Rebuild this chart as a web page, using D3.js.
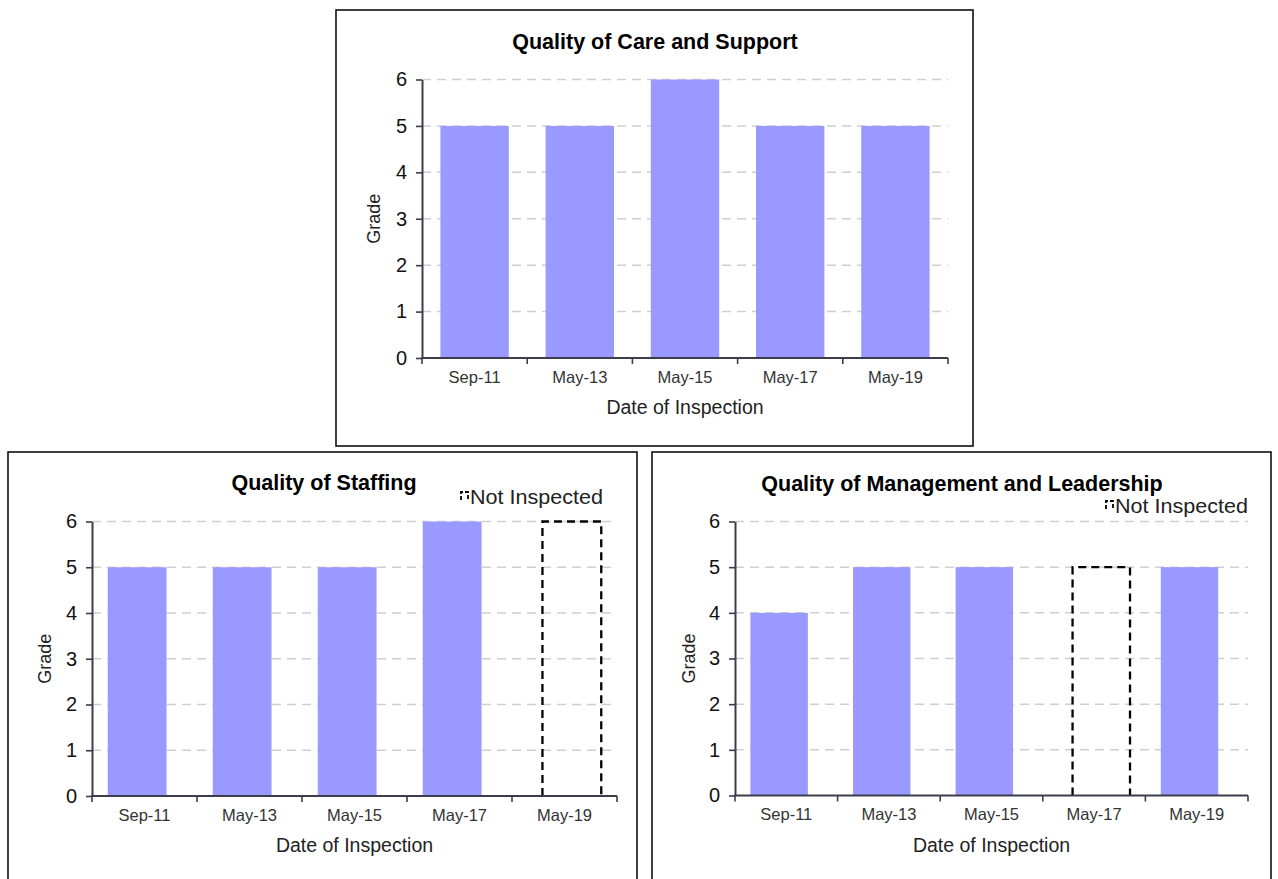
<!DOCTYPE html>
<html>
<head>
<meta charset="utf-8">
<script src="https://cdn.jsdelivr.net/npm/d3@7"></script>
<style>
  html, body { margin: 0; padding: 0; background: #fff; }
  svg { display: block; }
  text { font-family: "Liberation Sans", Arial, sans-serif; }
</style>
</head>
<body>
<svg id="chart" width="1278" height="879"></svg>
<script>
// Inspection dates shared by all three panels
const categories = ["Sep-11", "May-13", "May-15", "May-17", "May-19"];

// Grades per inspection (null = theme not inspected that time)
const careGrades       = [5, 5, 6, 5, 5];
const staffingGrades   = [5, 5, 5, 6, null];
const managementGrades = [4, 5, 5, null, 5];

// "Not Inspected" placeholders: date and the grade carried forward
const staffingNotInspected   = [{ date: "May-19", grade: 6 }];
const managementNotInspected = [{ date: "May-17", grade: 5 }];

const gradeTicks = [0, 1, 2, 3, 4, 5, 6];

const BAR_COLOR = "#9999ff";
const AXIS_COLOR = "#3c3c4c";
const GRID_COLOR = "#cfcfcf";

const svg = d3.select("#chart");

function drawPanel(cfg) {
  const g = svg.append("g");

  // panel border
  g.append("rect")
    .attr("x", cfg.frame[0]).attr("y", cfg.frame[1])
    .attr("width", cfg.frame[2]).attr("height", cfg.frame[3])
    .attr("fill", "#fff").attr("stroke", "#111").attr("stroke-width", 1.6);

  const x = d3.scaleBand()
    .domain(categories)
    .range([cfg.left, cfg.right])
    .paddingInner(cfg.pad)
    .paddingOuter(cfg.pad / 2);

  const y = d3.scaleLinear().domain([0, 6]).range([cfg.bottom, cfg.top]);

  // dashed horizontal gridlines
  g.append("g").selectAll("line")
    .data(gradeTicks.filter(t => t > 0))
    .join("line")
    .attr("x1", cfg.left).attr("x2", cfg.right)
    .attr("y1", d => y(d)).attr("y2", d => y(d))
    .attr("stroke", GRID_COLOR).attr("stroke-width", 1.5)
    .attr("stroke-dasharray", "9,6");

  const bw = x.bandwidth();
  const shift = cfg.shift * x.step();

  // filled grade bars
  const filled = categories.map((c, i) => ({ date: c, grade: cfg.grades[i] }))
    .filter(d => d.grade != null);
  g.append("g").selectAll("rect")
    .data(filled)
    .join("rect")
    .attr("x", d => x(d.date) - shift)
    .attr("y", d => y(d.grade))
    .attr("width", bw)
    .attr("height", d => y(0) - y(d.grade))
    .attr("fill", BAR_COLOR);

  // dashed outline bars for themes not inspected
  if (cfg.notInspected) {
    g.append("g").selectAll("path")
      .data(cfg.notInspected)
      .join("path")
      .attr("d", d => {
        const x0 = x(d.date) + shift, x1 = x0 + bw;
        return `M${x0},${y(0)}V${y(d.grade)}H${x1}V${y(0)}`;
      })
      .attr("fill", "none").attr("stroke", "#000").attr("stroke-width", 2.3)
      .attr("stroke-dasharray", "8,5");
  }

  // y axis
  const yAxis = g.append("g")
    .attr("transform", `translate(${cfg.left},0)`)
    .call(d3.axisLeft(y).tickValues(gradeTicks).tickFormat(d3.format("d"))
      .tickSize(6).tickPadding(9).tickSizeOuter(0));
  yAxis.select(".domain").attr("stroke", AXIS_COLOR).attr("stroke-width", 2);
  yAxis.selectAll(".tick line").attr("stroke", AXIS_COLOR).attr("stroke-width", 1.6);
  yAxis.selectAll(".tick text")
    .attr("font-size", 20).attr("fill", "#111")
    .attr("font-family", "Liberation Sans, Arial, sans-serif");

  // x axis: labels at band centres, tick marks at band boundaries
  const xAxis = g.append("g")
    .attr("transform", `translate(0,${cfg.bottom})`)
    .call(d3.axisBottom(x).tickSize(0).tickPadding(13).tickSizeOuter(0));
  xAxis.select(".domain").remove();
  xAxis.selectAll(".tick text")
    .attr("font-size", 16.5).attr("fill", "#333")
    .attr("font-family", "Liberation Sans, Arial, sans-serif");

  const bounds = categories.map(c => x(c) - x.step() * cfg.pad / 2).concat([cfg.right]);
  g.append("g").selectAll("line")
    .data(bounds)
    .join("line")
    .attr("x1", d => d).attr("x2", d => d)
    .attr("y1", cfg.bottom).attr("y2", cfg.bottom + 6)
    .attr("stroke", AXIS_COLOR).attr("stroke-width", 1.6);
  g.append("line")
    .attr("x1", cfg.left - 1).attr("x2", cfg.right)
    .attr("y1", cfg.bottom).attr("y2", cfg.bottom)
    .attr("stroke", AXIS_COLOR).attr("stroke-width", 2);

  // titles
  g.append("text")
    .attr("x", cfg.titleX).attr("y", cfg.titleY)
    .attr("text-anchor", "middle")
    .attr("font-size", 21.5).attr("font-weight", "bold").attr("fill", "#000")
    .text(cfg.title);

  g.append("text")
    .attr("x", (cfg.left + cfg.right) / 2).attr("y", cfg.bottom + 56)
    .attr("text-anchor", "middle")
    .attr("font-size", 19.5).attr("fill", "#222")
    .text("Date of Inspection");

  g.append("text")
    .attr("transform", `translate(${cfg.gradeX},${(cfg.top + cfg.bottom) / 2}) rotate(-90)`)
    .attr("text-anchor", "middle")
    .attr("font-size", 18).attr("fill", "#222")
    .text("Grade");

  // legend
  if (cfg.legend) {
    const lg = g.append("g").attr("transform", `translate(${cfg.legend[0]},${cfg.legend[1]})`);
    lg.append("path")
      .attr("d", "M0,9V1H7V9")
      .attr("fill", "none").attr("stroke", "#000").attr("stroke-width", 1.8)
      .attr("stroke-dasharray", "4,2");
    lg.append("text")
      .attr("x", 9).attr("y", 13)
      .attr("font-family", "Open Sans, sans-serif")
      .attr("font-size", 20).attr("fill", "#222")
      .attr("textLength", 133).attr("lengthAdjust", "spacingAndGlyphs")
      .text("Not Inspected");
  }
}

drawPanel({
  frame: [336, 10, 637, 436],
  left: 422, right: 948, top: 79.5, bottom: 358,
  pad: 0.35, shift: 0,
  grades: careGrades,
  title: "Quality of Care and Support", titleX: 655, titleY: 49,
  gradeX: 380
});

drawPanel({
  frame: [8, 452, 629, 440],
  left: 92, right: 617, top: 521.5, bottom: 796,
  pad: 0.44, shift: 0.07,
  grades: staffingGrades,
  notInspected: staffingNotInspected,
  title: "Quality of Staffing", titleX: 324, titleY: 490,
  gradeX: 51,
  legend: [461, 491]
});

drawPanel({
  frame: [652, 452, 619, 440],
  left: 735, right: 1248, top: 521.5, bottom: 795.5,
  pad: 0.44, shift: 0.07,
  grades: managementGrades,
  notInspected: managementNotInspected,
  title: "Quality of Management and Leadership", titleX: 962, titleY: 491,
  gradeX: 695,
  legend: [1106, 500]
});
</script>
</body>
</html>
